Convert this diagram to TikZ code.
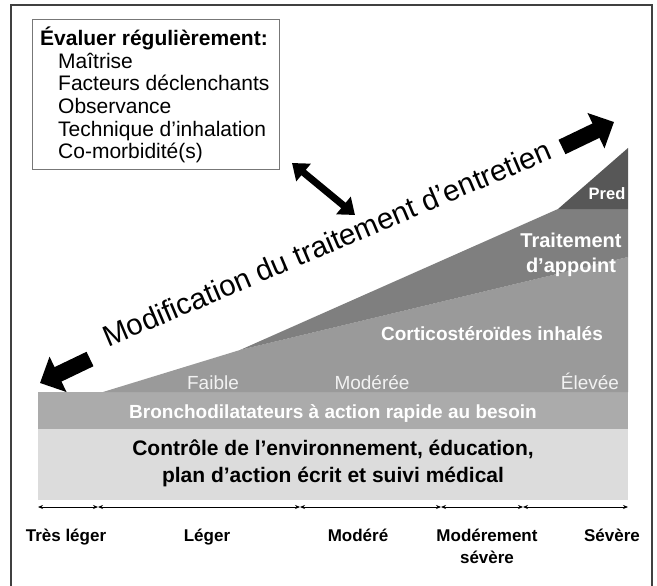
\documentclass[tikz,border=0pt]{standalone}
\usepackage{fontspec}
\setmainfont{Liberation Sans}
\usetikzlibrary{arrows.meta}
\definecolor{ctrl}{HTML}{DCDCDC}
\definecolor{bronch}{HTML}{ABABAB}
\definecolor{ics}{HTML}{9A9A9A}
\definecolor{appt}{HTML}{7F7F7F}
\definecolor{predc}{HTML}{575757}
\definecolor{framec}{HTML}{404040}
\definecolor{boxc}{HTML}{777777}
\definecolor{levtxt}{HTML}{F2F2F2}
\begin{document}
\begin{tikzpicture}[x=1pt,y=-1pt,
  evalhead/.style={font=\fontsize{21}{22}\selectfont\bfseries, anchor=base west, inner sep=0pt},
  evalitem/.style={font=\fontsize{21}{22}\selectfont, anchor=base west, inner sep=0pt},
  levellab/.style={font=\fontsize{19}{20}\selectfont, text=levtxt, anchor=base, inner sep=0pt},
  whitebold/.style={font=\fontsize{19}{20}\selectfont\bfseries, text=white, anchor=base, inner sep=0pt},
  sevlabel/.style={font=\fontsize{17}{22}\selectfont\bfseries, align=center, anchor=north, inner sep=0pt},
  blockarrow/.style={line width=16pt, -{Triangle[length=20pt,width=38pt]}},
  dblarrow/.style={line width=7pt, {Triangle[length=15pt,width=22pt]}-{Triangle[length=15pt,width=22pt]}},
  scalearr/.style={line width=0.8pt, {Stealth[length=5pt,width=4pt]}-{Stealth[length=5pt,width=4pt]}}]
\useasboundingbox (0,0) rectangle (657,586);
\fill[white] (0,0) rectangle (657,586);
% outer frame
\draw[framec, line width=1.5pt] (11,590) -- (11,5) -- (652,5) -- (652,590);
% bands
\fill[ctrl] (38,429) rectangle (628,500);
\fill[bronch] (38,392) rectangle (628,429);
% layers
\fill[ics] (103,392) -- (240,350) -- (628,257) -- (628,392) -- cycle;
\fill[appt] (240,350) -- (558,209) -- (628,209) -- (628,257) -- cycle;
\fill[predc] (558,209) -- (628,148) -- (628,209) -- cycle;
% evaluation box
\node[draw=boxc, line width=1pt, minimum width=247pt, minimum height=150pt, anchor=north west, inner sep=0pt] (evalbox) at (32,19) {};
\node[evalhead] (evh) at (40,46) {Évaluer régulièrement:};
\node[evalitem] (ev1) at (58,68.5) {Maîtrise};
\node[evalitem] (ev2) at (58,91) {Facteurs déclenchants};
\node[evalitem] (ev3) at (58,113.5) {Observance};
\node[evalitem] (ev4) at (58,136) {Technique d’inhalation};
\node[evalitem] (ev5) at (58,158.5) {Co-morbidité(s)};
% big rotated text
\node[font=\fontsize{29.5}{30}\selectfont, anchor=base, rotate=23, inner sep=0pt] (modif) at (331,253) {Modification du traitement d’entretien};
% block arrows
\coordinate (lt) at (90,359);
\coordinate (lh) at (40,383);
\coordinate (rt) at (562,147);
\coordinate (rh) at (614,122);
\draw[blockarrow] (lt) -- (lh);
\draw[blockarrow] (rt) -- (rh);
\coordinate (da) at (292,163);
\coordinate (db) at (355,215);
\draw[dblarrow] (da) -- (db);
% layer labels
\node[font=\fontsize{16.5}{17}\selectfont\bfseries, text=white, anchor=base, inner sep=0pt] (pred) at (607,199) {Pred};
\node[font=\fontsize{20}{25}\selectfont\bfseries, text=white, align=center, anchor=north, inner sep=0pt] (appoint) at (571,233) {Traitement\\d’appoint};
\node[whitebold] (ics) at (492,340) {Corticostéroïdes inhalés};
\node[levellab] (faible) at (213,389) {Faible};
\node[levellab] (moderee) at (372,389) {Modérée};
\node[levellab] (elevee) at (590,389) {Élevée};
\node[whitebold] (bronch) at (333,418) {Bronchodilatateurs à action rapide au besoin};
\node[font=\fontsize{21}{27}\selectfont\bfseries, align=center, anchor=north, inner sep=0pt] (ctrl) at (333,440) {Contrôle de l’environnement, éducation,\\plan d’action écrit et suivi médical};
% severity scale
\coordinate (s0) at (38,507);
\coordinate (s1) at (98,507);
\coordinate (s2) at (300,507);
\coordinate (s3) at (441,507);
\coordinate (s4) at (523,507);
\coordinate (s5) at (628,507);
\draw[scalearr] (s0) -- (s1);
\draw[scalearr] (s1) -- (s2);
\draw[scalearr] (s2) -- (s3);
\draw[scalearr] (s3) -- (s4);
\draw[scalearr] (s4) -- (s5);
\node[sevlabel] (tl) at (66,529) {Très léger};
\node[sevlabel] (lg) at (207,529) {Léger};
\node[sevlabel] (md) at (358,529) {Modéré};
\node[sevlabel] (ms) at (487,529) {Modérement\\sévère};
\node[sevlabel] (sv) at (612,529) {Sévère};
\end{tikzpicture}
\end{document}
